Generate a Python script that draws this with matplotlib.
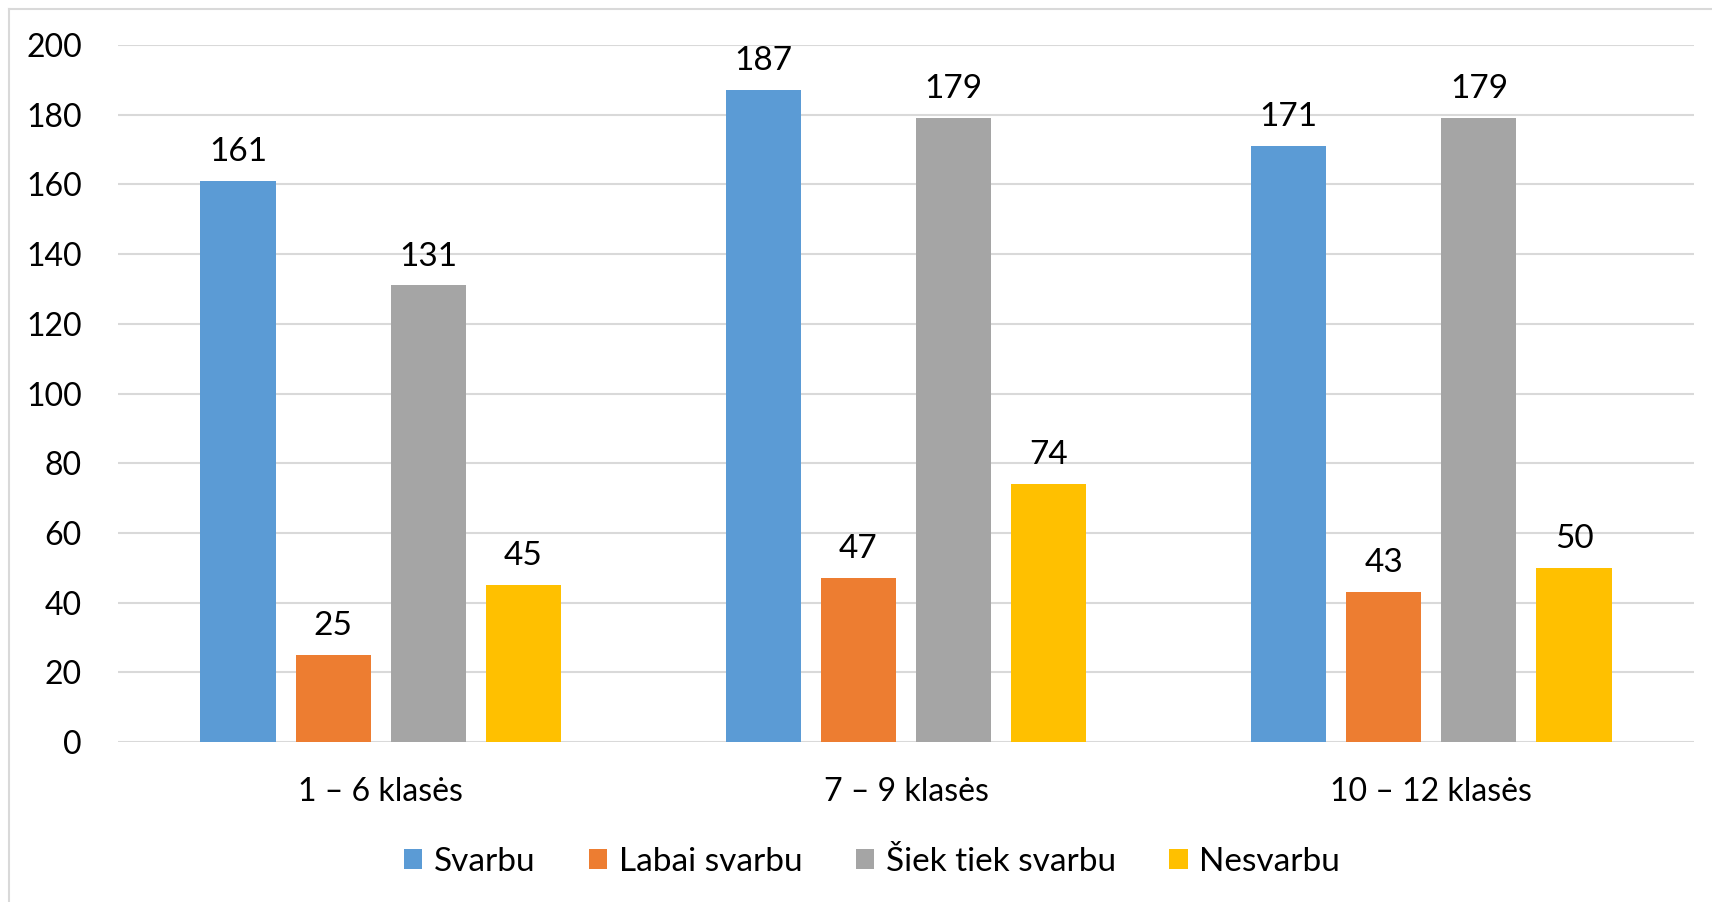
import numpy as np
import matplotlib.pyplot as plt
from matplotlib.lines import Line2D

plt.rcParams['font.family'] = ['Lato', 'DejaVu Sans']

categories = ['1 – 6 klasės', '7 – 9 klasės', '10 – 12 klasės']
series = ['Svarbu', 'Labai svarbu', 'Šiek tiek svarbu', 'Nesvarbu']
svarbu = [161, 187, 171]
labai_svarbu = [25, 47, 43]
siek_tiek = [131, 179, 179]
nesvarbu = [45, 74, 50]
colors = ['#5b9bd5', '#ed7d31', '#a5a5a5', '#ffc000']

values = [svarbu, labai_svarbu, siek_tiek, nesvarbu]

fig = plt.figure(figsize=(17.12, 9.02), dpi=100)
ax = fig.add_axes([118 / 1712, 1 - 742 / 902, (1694 - 118) / 1712, (742 - 45) / 902])

index = np.arange(len(categories))
bar_width = 0.143
step = 0.181
for i, (name, vals) in enumerate(zip(series, values)):
    pos = index + (i - 1.5) * step
    bars = ax.bar(pos, vals, bar_width, color=colors[i], label=name, zorder=3)
    for b, v in zip(bars, vals):
        ax.text(b.get_x() + b.get_width() / 2, v + 4, str(v),
                ha='center', va='bottom', fontsize=24, color='#000000')

ax.set_xlim(-0.5, 2.5)
ax.set_ylim(0, 200)
ax.set_yticks(range(0, 201, 20))
ax.set_xticks(index)
ax.set_xticklabels(categories, fontsize=24)
ax.tick_params(axis='both', length=0, labelsize=23, colors='#000000')
ax.tick_params(axis='y', pad=26)
ax.tick_params(axis='x', pad=25)
ax.grid(axis='y', color='#d9d9d9', linewidth=1.5, zorder=0)
for s in ax.spines.values():
    s.set_visible(False)

fig.legend(*ax.get_legend_handles_labels(), loc='center',
           bbox_to_anchor=(872 / 1712, 1 - 862 / 902), bbox_transform=fig.transFigure,
           ncol=4, frameon=False, fontsize=24, handlelength=0.55, handleheight=0.55,
           handletextpad=0.35, columnspacing=1.6)

# chart frame
fig.add_artist(Line2D([9 / 1712, 9 / 1712], [0, 1 - 9 / 902], color='#d9d9d9', lw=1.5))
fig.add_artist(Line2D([9 / 1712, 1], [1 - 9 / 902, 1 - 9 / 902], color='#d9d9d9', lw=1.5))

plt.savefig('out.png', dpi=100)
